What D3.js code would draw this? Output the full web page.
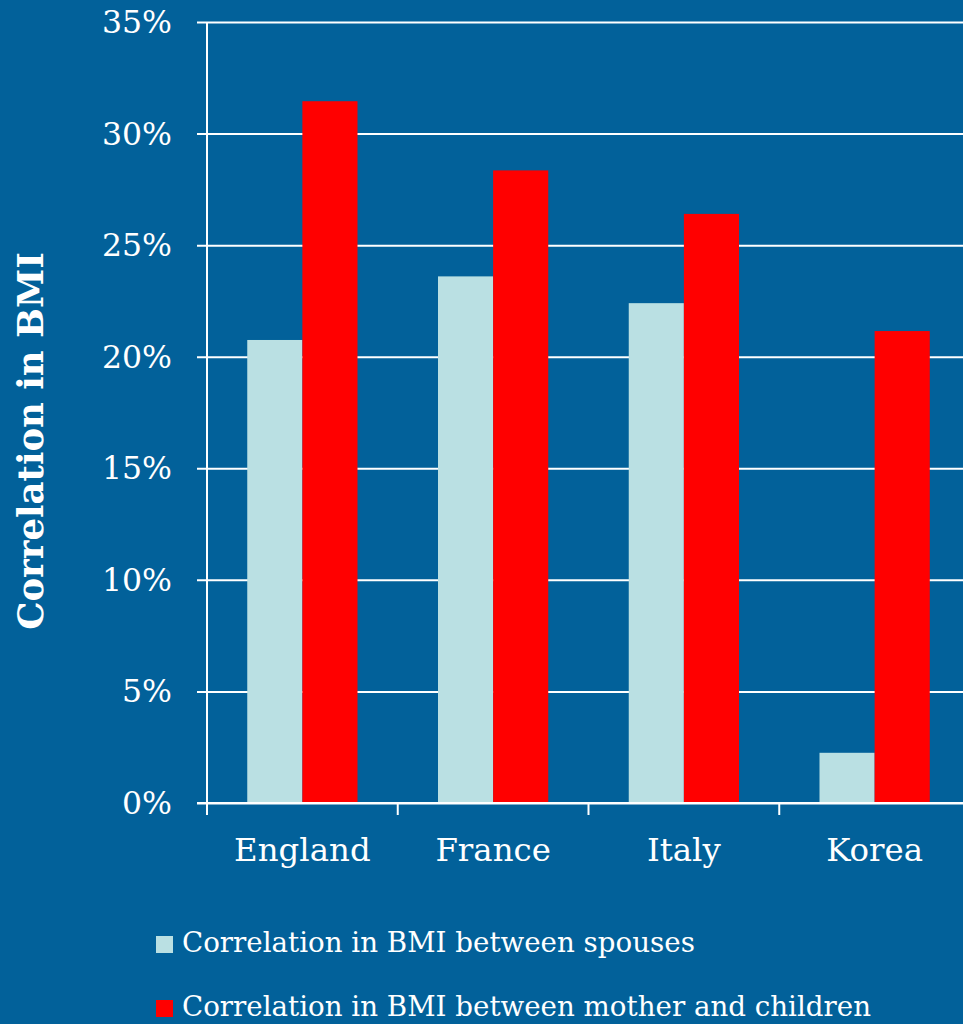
<!DOCTYPE html>
<html>
<head>
<meta charset="utf-8">
<script src="https://cdn.jsdelivr.net/npm/d3@7"></script>
<style>
  html, body { margin: 0; padding: 0; background: #02619a; }
  svg { display: block; }
  text { font-family: "DejaVu Serif", Georgia, serif; fill: #ffffff; }
</style>
</head>
<body>
<svg id="chart" width="963" height="1024"></svg>
<script>
const countries = ["England", "France", "Italy", "Korea"];
const seriesNames = [
  "Correlation in BMI between spouses",
  "Correlation in BMI between mother and children"
];
const spouses = [20.75, 23.6, 22.4, 2.25];
const motherChildren = [31.45, 28.35, 26.4, 21.15];
const yTicks = [0, 5, 10, 15, 20, 25, 30, 35];
const seriesColors = ["#bae0e3", "#ff0000"];

const svg = d3.select("#chart");
const W = 963, H = 1024;
svg.append("rect").attr("width", W).attr("height", H).attr("fill", "#02619a");

const plot = { left: 207, right: 970, top: 22, bottom: 803 };

const x = d3.scaleBand().domain(countries).range([plot.left, plot.right]).padding(0);
const xs = d3.scaleBand().domain(seriesNames).range([0, x.bandwidth()])
  .paddingInner(0).paddingOuter(0.73);
const y = d3.scaleLinear().domain([0, 35]).range([plot.bottom, plot.top]);

// horizontal gridlines with small ticks left of the axis
const grid = svg.append("g")
  .attr("transform", `translate(${plot.left},0)`)
  .call(d3.axisLeft(y).tickValues(yTicks).tickSize(-(W - plot.left)).tickFormat(""));
grid.select(".domain").remove();
grid.selectAll(".tick line").attr("stroke", "#ffffff").attr("stroke-width", 2)
  .attr("x1", -10).attr("x2", W - plot.left);

// bars
const rows = countries.map((c, i) => ({ country: c, values: [spouses[i], motherChildren[i]] }));
const groups = svg.append("g").selectAll("g").data(rows).join("g")
  .attr("transform", d => `translate(${x(d.country)},0)`);
groups.selectAll("rect")
  .data(d => d.values.map((v, k) => ({ name: seriesNames[k], value: v, k })))
  .join("rect")
  .attr("x", d => xs(d.name))
  .attr("width", xs.bandwidth())
  .attr("y", d => y(d.value))
  .attr("height", d => y(0) - y(d.value))
  .attr("fill", d => seriesColors[d.k]);

// y axis line
svg.append("line")
  .attr("x1", plot.left).attr("x2", plot.left)
  .attr("y1", plot.top).attr("y2", plot.bottom + 12)
  .attr("stroke", "#ffffff").attr("stroke-width", 2);

// baseline and category separator ticks
svg.append("line")
  .attr("x1", plot.left - 10).attr("x2", W)
  .attr("y1", y(0)).attr("y2", y(0))
  .attr("stroke", "#ffffff").attr("stroke-width", 2);
svg.append("g").selectAll("line").data(countries.slice(1)).join("line")
  .attr("x1", d => x(d)).attr("x2", d => x(d))
  .attr("y1", y(0)).attr("y2", y(0) + 12)
  .attr("stroke", "#ffffff").attr("stroke-width", 2);

// y tick labels
svg.append("g").selectAll("text").data(yTicks).join("text")
  .attr("x", 172)
  .attr("y", d => y(d))
  .attr("dy", "0.35em")
  .attr("text-anchor", "end")
  .attr("font-size", 31.5)
  .text(d => d + "%");

// x category labels
svg.append("g").selectAll("text").data(countries).join("text")
  .attr("x", d => x(d) + x.bandwidth() / 2)
  .attr("y", 861)
  .attr("text-anchor", "middle")
  .attr("font-size", 32.4)
  .text(d => d);

// y axis title
svg.append("text")
  .attr("transform", "translate(43,441) rotate(-90)")
  .attr("text-anchor", "middle")
  .attr("font-size", 35.5)
  .attr("font-weight", "bold")
  .text("Correlation in BMI");

// legend
const legend = svg.append("g").selectAll("g").data(seriesNames).join("g")
  .attr("transform", (d, i) => `translate(156,${952 + i * 64})`);
legend.append("rect")
  .attr("x", 0).attr("y", -16).attr("width", 17).attr("height", 17)
  .attr("fill", (d, i) => seriesColors[i]);
legend.append("text")
  .attr("x", 26).attr("y", 0)
  .attr("font-size", 27.7)
  .text(d => d);
</script>
</body>
</html>
